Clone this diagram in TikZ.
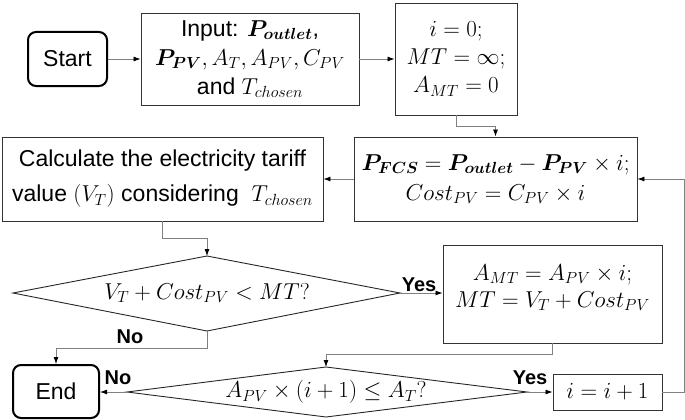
\RequirePackage{fix-cm}
\documentclass[tikz,border=0pt]{standalone}
\usepackage{amsmath}
\usepackage{bm}
\usepackage[no-math]{fontspec}
\setmainfont{Liberation Sans}
\usetikzlibrary{arrows.meta}
\begin{document}
\begin{tikzpicture}[x=1pt,y=-1pt,
  box/.style={draw=black!80, line width=0.9pt, inner sep=0pt, align=center, font=\fontsize{23}{29}\selectfont},
  term/.style={draw=black, line width=2pt, rounded corners=8pt, inner sep=0pt, font=\fontsize{23}{28}\selectfont},
  conn/.style={draw=black!50, line width=0.8pt, -{Latex[length=7pt,width=5pt,color=black]}},
  dshape/.style={draw=black!85, line width=0.9pt},
  dtext/.style={inner sep=0pt, font=\fontsize{23}{28}\selectfont},
  lbl/.style={font=\bfseries\fontsize{20}{24}\selectfont, inner sep=0pt}]
\useasboundingbox (0,0) rectangle (685,420);

\node[term, minimum width=79, minimum height=54] (start) at (67.5,59) {Start};
\node[box, minimum width=218, minimum height=92, font=\fontsize{23}{29}\selectfont] (input) at (250,59)
  {Input: $\bm{P_{outlet}}$,\\ $\bm{P_{PV}}, A_T, A_{PV}, C_{PV}$\\ and $T_{chosen}$};
\node[box, minimum width=122, minimum height=112, font=\fontsize{23}{28}\selectfont] (init) at (456,59)
  {$i=0;$\\ $MT=\infty;$\\ $A_{MT}=0$};
\node[box, minimum width=283, minimum height=84, font=\fontsize{23}{30}\selectfont] (pfcs) at (495.5,179)
  {$\bm{P_{FCS}}=\bm{P_{outlet}}-\bm{P_{PV}}\times i;$\\ $Cost_{PV}=C_{PV}\times i$};
\node[box, minimum width=321, minimum height=84, font=\fontsize{23}{35}\selectfont] (calc) at (162.5,179)
  {Calculate the electricity tariff\\ value $(V_T)$ considering~ $T_{chosen}$};
\node[box, minimum width=219, minimum height=98, text depth=16pt, font=\fontsize{23}{27}\selectfont] (amt) at (552.5,294)
  {$A_{MT}=A_{PV}\times i;$\\ $MT=V_T+Cost_{PV}$};
\node[box, minimum width=109, minimum height=36] (inc) at (607.5,392) {$i=i+1$};
\node[term, minimum width=86, minimum height=53] (end) at (56,391.5) {End};

% decision 1
\coordinate (d1t) at (207,256);
\coordinate (d1r) at (400,293);
\coordinate (d1b) at (207,331);
\coordinate (d1l) at (13,293);
\draw[dshape] (d1t) -- (d1r) -- (d1b) -- (d1l) -- cycle;
\node[dtext] (d1) at (207,293) {$V_T+Cost_{PV}<MT?$};

% decision 2
\coordinate (d2t) at (326,367);
\coordinate (d2r) at (527,392);
\coordinate (d2b) at (326,417);
\coordinate (d2l) at (127,392);
\draw[dshape] (d2t) -- (d2r) -- (d2b) -- (d2l) -- cycle;
\node[dtext] (d2) at (326,392) {$A_{PV}\times(i+1)\le A_T?$};

% connectors
\draw[conn] (start) -- (input);
\draw[conn] (input) -- (init);
\draw[conn] (init.south) -- ++(0,11) -| (pfcs.north);
\draw[conn] (pfcs.west) -- (calc.east);
\draw[conn] (calc.south) -- ++(0,17) -| (d1t);
\draw[conn] (d1r) -- (d1r -| amt.west);
\draw[conn] (d1b) -- ++(0,17) -| (end.north);
\draw[conn] (amt.south) -- ++(0,11) -| (d2t);
\draw[conn] (d2l) -- (d2l -| end.east);
\draw[conn] (d2r) -- (d2r -| inc.west);
\draw[conn] (inc.east) -- ++(22,0) |- (pfcs.east);

% labels
\node[lbl] (yes1) at (419,285) {Yes};
\node[lbl] (no1) at (130,337) {No};
\node[lbl] (no2) at (118,378) {No};
\node[lbl] (yes2) at (530,378) {Yes};
\end{tikzpicture}
\end{document}
